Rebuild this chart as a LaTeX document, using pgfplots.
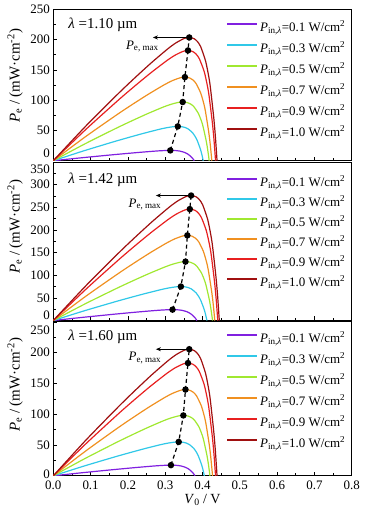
\documentclass[border=0pt]{standalone}
\usepackage{pgfplots}
\pgfplotsset{compat=1.18}
\usepackage{pgfplotstable}
\usetikzlibrary{arrows.meta}
\usepackage{fontspec}
\setmainfont{Liberation Serif}

\definecolor{c1}{RGB}{128,32,224}
\definecolor{c2}{RGB}{48,200,232}
\definecolor{c3}{RGB}{160,232,48}
\definecolor{c4}{RGB}{240,144,32}
\definecolor{c5}{RGB}{232,32,32}
\definecolor{c6}{RGB}{160,16,16}

\pgfplotstableread{
V1 P1 V2 P2 V3 P3 V4 P4 V5 P5 V6 P6
0 0 0 0 0 0 0 0 0 0 0 0
0.0756 4.81 0.0804 16.02 0.0836 27.43 0.0850 39.07 0.0870 51.52 0.0878 57.61
0.1512 9.33 0.1608 31.06 0.1672 53.17 0.1700 75.72 0.1740 99.86 0.1756 111.66
0.1890 11.47 0.2010 38.19 0.2090 65.39 0.2125 93.12 0.2175 122.81 0.2195 137.32
0.2268 13.53 0.2412 45.05 0.2508 77.13 0.2550 109.85 0.2610 144.87 0.2634 161.99
0.2646 15.44 0.2814 51.42 0.2926 88.03 0.2975 125.37 0.3045 165.35 0.3073 184.88
0.2835 16.27 0.3015 54.17 0.3135 92.73 0.3188 132.07 0.3263 174.17 0.3293 194.75
0.3024 16.87 0.3216 56.15 0.3344 96.13 0.3400 136.91 0.3480 180.56 0.3512 201.89
0.3137 17.00 0.3337 56.60 0.3469 96.90 0.3528 138.00 0.3611 182.00 0.3644 203.50
0.3251 16.83 0.3457 56.03 0.3595 95.92 0.3655 136.61 0.3741 180.16 0.3775 201.45
0.3326 16.44 0.3538 54.74 0.3678 93.72 0.3740 133.47 0.3828 176.03 0.3863 196.83
0.3402 15.73 0.3618 52.37 0.3762 89.66 0.3825 127.69 0.3915 168.40 0.3951 188.30
0.3515 13.74 0.3739 45.76 0.3887 78.34 0.3953 111.57 0.4046 147.15 0.4083 164.53
0.3591 11.51 0.3819 38.32 0.3971 65.60 0.4038 93.43 0.4133 123.21 0.4171 137.77
0.3629 10.00 0.3859 33.29 0.4013 57.00 0.4080 81.17 0.4176 107.05 0.4214 119.70
0.3704 5.93 0.3940 19.74 0.4096 33.80 0.4165 48.13 0.4263 63.48 0.4302 70.98
0.3742 3.29 0.3980 10.96 0.4138 18.76 0.4208 26.72 0.4307 35.24 0.4346 39.40
0.3780 0 0.4020 0 0.4180 0 0.4250 0 0.4350 0 0.4390 0
}\tabA

\pgfplotstableread{
V1 P1 V2 P2 V3 P3 V4 P4 V5 P5 V6 P6
0 0 0 0 0 0 0 0 0 0 0 0
0.0770 6.79 0.0824 21.23 0.0854 36.80 0.0866 53.22 0.0882 69.64 0.0890 78.14
0.1540 13.17 0.1648 41.15 0.1708 71.33 0.1732 103.16 0.1764 134.98 0.1780 151.44
0.1925 16.20 0.2060 50.61 0.2135 87.72 0.2165 126.86 0.2205 166.00 0.2225 186.24
0.2310 19.10 0.2472 59.70 0.2562 103.48 0.2598 149.65 0.2646 195.82 0.2670 219.70
0.2695 21.80 0.2884 68.14 0.2989 118.11 0.3031 170.80 0.3087 223.49 0.3115 250.75
0.2888 22.97 0.3090 71.78 0.3203 124.41 0.3248 179.92 0.3308 235.42 0.3338 264.13
0.3080 23.81 0.3296 74.41 0.3416 128.97 0.3464 186.51 0.3528 244.06 0.3560 273.82
0.3196 24.00 0.3420 75.00 0.3544 130.00 0.3594 188.00 0.3660 246.00 0.3694 276.00
0.3311 23.76 0.3543 74.24 0.3672 128.69 0.3724 186.10 0.3793 243.52 0.3827 273.21
0.3388 23.21 0.3626 72.54 0.3758 125.74 0.3810 181.83 0.3881 237.93 0.3916 266.95
0.3465 22.21 0.3708 69.40 0.3843 120.29 0.3897 173.96 0.3969 227.62 0.4005 255.38
0.3581 19.40 0.3832 60.64 0.3971 105.11 0.4027 152.00 0.4101 198.89 0.4139 223.15
0.3658 16.25 0.3914 50.78 0.4057 88.01 0.4114 127.28 0.4190 166.54 0.4228 186.85
0.3696 14.12 0.3955 44.12 0.4099 76.47 0.4157 110.58 0.4234 144.70 0.4272 162.34
0.3773 8.37 0.4038 26.16 0.4185 45.34 0.4243 65.57 0.4322 85.80 0.4361 96.27
0.3812 4.65 0.4079 14.52 0.4227 25.17 0.4287 36.40 0.4366 47.63 0.4406 53.43
0.3850 0 0.4120 0 0.4270 0 0.4330 0 0.4410 0 0.4450 0
}\tabB

\pgfplotstableread{
V1 P1 V2 P2 V3 P3 V4 P4 V5 P5 V6 P6
0 0 0 0 0 0 0 0 0 0 0 0
0.0760 4.90 0.0810 15.57 0.0840 27.74 0.0854 39.63 0.0870 51.81 0.0878 58.18
0.1520 9.49 0.1620 30.18 0.1680 53.77 0.1708 76.82 0.1740 100.41 0.1756 112.76
0.1900 11.67 0.2025 37.11 0.2100 66.13 0.2135 94.47 0.2175 123.49 0.2195 138.67
0.2280 13.77 0.2430 43.78 0.2520 78.01 0.2562 111.44 0.2610 145.67 0.2634 163.58
0.2660 15.72 0.2835 49.97 0.2940 89.03 0.2989 127.19 0.3045 166.26 0.3073 186.70
0.2850 16.56 0.3038 52.64 0.3150 93.79 0.3203 133.98 0.3263 175.13 0.3293 196.66
0.3040 17.16 0.3240 54.57 0.3360 97.23 0.3416 138.89 0.3480 181.55 0.3512 203.88
0.3154 17.30 0.3362 55.00 0.3486 98.00 0.3544 140.00 0.3611 183.00 0.3644 205.50
0.3268 17.13 0.3483 54.44 0.3612 97.01 0.3672 138.59 0.3741 181.15 0.3775 203.42
0.3344 16.73 0.3564 53.20 0.3696 94.79 0.3758 135.41 0.3828 177.00 0.3863 198.76
0.3420 16.01 0.3645 50.89 0.3780 90.68 0.3843 129.54 0.3915 169.33 0.3951 190.15
0.3534 13.99 0.3767 44.47 0.3906 79.23 0.3971 113.19 0.4046 147.96 0.4083 166.15
0.3610 11.71 0.3848 37.24 0.3990 66.35 0.4057 94.78 0.4133 123.89 0.4171 139.12
0.3648 10.18 0.3888 32.35 0.4032 57.64 0.4099 82.35 0.4176 107.64 0.4214 120.88
0.3724 6.03 0.3969 19.18 0.4116 34.18 0.4185 48.83 0.4263 63.83 0.4302 71.68
0.3762 3.35 0.4010 10.65 0.4158 18.97 0.4227 27.10 0.4307 35.43 0.4346 39.78
0.3800 0 0.4050 0 0.4200 0 0.4270 0 0.4350 0 0.4390 0
}\tabC

\newcommand{\leg}[1]{\textit{P}\textsubscript{in,\textit{λ}}=#1 W/cm\textsuperscript{2}}

\pgfplotsset{panel/.style={
  scale only axis, width=298.4bp, xmin=0, xmax=0.8,
  anchor=south west,
  tick align=inside, tick pos=left,
  xtick={0,0.1,0.2,0.3,0.4,0.5,0.6,0.7,0.8},
  minor xtick={0.05,0.15,0.25,0.35,0.45,0.55,0.65,0.75},
  major tick length=4bp, minor tick length=2.5bp,
  tick style={black, line width=0.6bp},
  axis line style={line width=0.8bp},
  tick label style={font=\fontsize{13}{13}\selectfont},
  ylabel={\textit{P}\textsubscript{e} / (mW·cm\textsuperscript{-2})},
  ylabel style={font=\fontsize{15}{15}\selectfont, anchor=center},
  legend cell align=left,
  legend image code/.code={\draw[##1, line width=1.8bp] (0bp,3.8bp) -- (30bp,3.8bp);},
  every axis plot/.append style={line width=1.2bp, smooth, tension=0.4},
}}

\newcommand{\curves}[1]{%
  \addplot[c1] table[x=V1,y=P1]{#1}; \addlegendentry{\leg{0.1}}
  \addplot[c2] table[x=V2,y=P2]{#1}; \addlegendentry{\leg{0.3}}
  \addplot[c3] table[x=V3,y=P3]{#1}; \addlegendentry{\leg{0.5}}
  \addplot[c4] table[x=V4,y=P4]{#1}; \addlegendentry{\leg{0.7}}
  \addplot[c5] table[x=V5,y=P5]{#1}; \addlegendentry{\leg{0.9}}
  \addplot[c6] table[x=V6,y=P6]{#1}; \addlegendentry{\leg{1.0}}
}

\begin{document}
\begin{tikzpicture}
\path[use as bounding box] (0,0) rectangle (372bp,519bp);

% Panel 1
\begin{axis}[panel, at={(53.3bp,358.3bp)}, height=151.4bp,
  ymin=0, ymax=250,
  ytick={0,50,100,150,200,250},
  yticklabels={{\raisebox{7bp}[\height][\depth]{0}},50,100,150,200,250},
  minor ytick={25,75,125,175,225},
  xticklabels={},
  ylabel style={at={(axis description cs:-0.128,0.56)}},
  legend style={draw=none, fill=none, at={(rel axis cs:0.989,0.936)}, anchor=north east,
    font=\fontsize{13}{13}\selectfont, row sep=8bp, column sep=2bp,
    nodes={inner sep=0pt, text height=10bp, text depth=3bp}},
]
\curves{\tabA}
\addplot[black, line width=1.2bp, dash pattern=on 4bp off 3bp, sharp plot, mark=*, mark size=2.6bp, mark options={solid}, forget plot]
 coordinates {(0.3137,17) (0.3337,56.6) (0.3469,96.9) (0.3528,138) (0.3611,182) (0.3644,203.5)};
\draw[-{Stealth[length=5bp,width=4bp]}, line width=0.8bp] (axis cs:0.3644,203.5) -- (axis cs:0.267,203.5);
\node[anchor=north east, inner sep=0pt, font=\fontsize{13}{13}\selectfont] at (axis cs:0.283,203.5) [yshift=-3bp] {\textit{P}\textsubscript{e, max}};
\node[anchor=west, inner sep=0pt, font=\fontsize{15}{15}\selectfont] at (rel axis cs:0,1) [xshift=15bp, yshift=-16bp] {\textit{λ} =1.10 µm};
\end{axis}

% Panel 2
\begin{axis}[panel, at={(53.3bp,198.5bp)}, height=158.5bp,
  ymin=0, ymax=350,
  ytick={0,50,100,150,200,250,300,350},
  yticklabels={{\raisebox{5bp}[\height][\depth]{0}},50,100,150,200,250,300,{\raisebox{-7bp}[\height][\depth]{350}}},
  minor ytick={25,75,125,175,225,275,325},
  xticklabels={},
  ylabel style={at={(axis description cs:-0.128,0.59)}},
  legend style={draw=none, fill=none, at={(rel axis cs:0.989,0.924)}, anchor=north east,
    font=\fontsize{13}{13}\selectfont, row sep=7bp, column sep=2bp,
    nodes={inner sep=0pt, text height=10bp, text depth=3bp}},
]
\curves{\tabB}
\addplot[black, line width=1.2bp, dash pattern=on 4bp off 3bp, sharp plot, mark=*, mark size=2.6bp, mark options={solid}, forget plot]
 coordinates {(0.3196,24) (0.342,75) (0.3544,130) (0.3594,188) (0.366,246) (0.3694,276)};
\draw[-{Stealth[length=5bp,width=4bp]}, line width=0.8bp] (axis cs:0.3694,276) -- (axis cs:0.275,276);
\node[anchor=north east, inner sep=0pt, font=\fontsize{13}{13}\selectfont] at (axis cs:0.29,276) [yshift=-3bp] {\textit{P}\textsubscript{e, max}};
\node[anchor=west, inner sep=0pt, font=\fontsize{15}{15}\selectfont] at (rel axis cs:0,1) [xshift=15bp, yshift=-18bp] {\textit{λ} =1.42 µm};
\end{axis}

% Panel 3
\begin{axis}[panel, at={(53.3bp,43.2bp)}, height=154bp,
  ymin=0, ymax=250,
  ytick={0,50,100,150,200,250},
  yticklabels={{\raisebox{2bp}[\height][\depth]{0}},50,100,150,200,{\raisebox{-8bp}[\height][\depth]{250}}},
  minor ytick={25,75,125,175,225},
  xticklabels={0.0,0.1,0.2,0.3,0.4,0.5,0.6,0.7,0.8},
  xticklabel style={yshift=-1.5bp},
  xlabel={\textit{V}\textsubscript{0} / V},
  xlabel style={at={(axis description cs:0.5,-0.157)}, anchor=center, font=\fontsize{14}{14}\selectfont},
  ylabel style={at={(axis description cs:-0.128,0.59)}},
  legend style={draw=none, fill=none, at={(rel axis cs:0.989,0.948)}, anchor=north east,
    font=\fontsize{13}{13}\selectfont, row sep=8bp, column sep=2bp,
    nodes={inner sep=0pt, text height=10bp, text depth=3bp}},
]
\curves{\tabC}
\addplot[black, line width=1.2bp, dash pattern=on 4bp off 3bp, sharp plot, mark=*, mark size=2.6bp, mark options={solid}, forget plot]
 coordinates {(0.3154,17.3) (0.3362,55) (0.3486,98) (0.3544,140) (0.3611,183) (0.3644,205.5)};
\draw[-{Stealth[length=5bp,width=4bp]}, line width=0.8bp] (axis cs:0.3644,205.5) -- (axis cs:0.275,205.5);
\node[anchor=north east, inner sep=0pt, font=\fontsize{13}{13}\selectfont] at (axis cs:0.29,205.5) [yshift=-3bp] {\textit{P}\textsubscript{e, max}};
\node[anchor=west, inner sep=0pt, font=\fontsize{15}{15}\selectfont] at (rel axis cs:0,1) [xshift=15bp, yshift=-15bp] {\textit{λ} =1.60 µm};
\end{axis}
\end{tikzpicture}
\end{document}
